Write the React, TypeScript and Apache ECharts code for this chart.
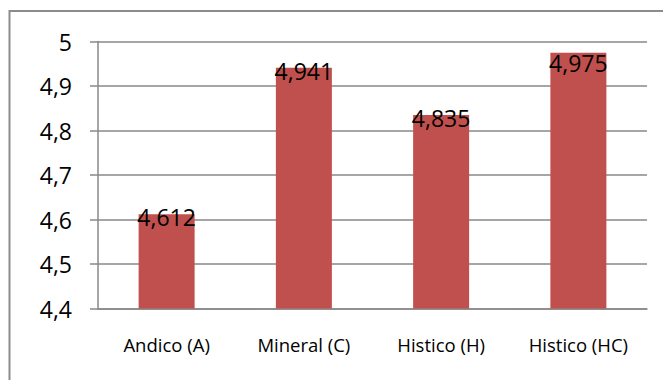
import React, { useEffect, useRef } from "react";
import * as echarts from "echarts";

const categories = ["Andico (A)", "Mineral (C)", "Histico (H)", "Histico (HC)"];
const values = [4.612, 4.941, 4.835, 4.975];
const yMin = 4.4;
const yMax = 5;
const yStep = 0.1;

const fmt = (v: number, digits: number) =>
  String(Number(v.toFixed(digits))).replace(".", ",");

export default function App() {
  const ref = useRef<HTMLDivElement>(null);
  useEffect(() => {
    if (!ref.current) return;
    const chart = echarts.init(ref.current, undefined, { renderer: "svg" });
    const font = "'Open Sans', 'Noto Sans', sans-serif";
    chart.setOption({
      animation: false,
      backgroundColor: "#ffffff",
      graphic: [
        {
          type: "rect",
          shape: { x: 9.5, y: 11, width: 700, height: 420 },
          style: { fill: "none", stroke: "#8c8c8c", lineWidth: 2 },
          silent: true,
        },
      ],
      grid: { left: 98, right: 16, top: 41.5, bottom: 71.5 },
      xAxis: {
        type: "category",
        data: categories,
        axisLine: { show: true, lineStyle: { color: "#888888", width: 1.5 } },
        axisTick: { show: false },
        axisLabel: {
          color: "#000000",
          fontFamily: font,
          fontSize: 18.5,
          margin: 26,
        },
      },
      yAxis: {
        type: "value",
        min: yMin,
        max: yMax,
        interval: yStep,
        axisLine: { show: true, lineStyle: { color: "#888888", width: 1.5 } },
        axisTick: { show: true, length: 8, lineStyle: { color: "#888888", width: 1.5 } },
        splitLine: { show: true, lineStyle: { color: "#888888", width: 1.5 } },
        axisLabel: {
          color: "#000000",
          fontFamily: font,
          fontSize: 23,
          margin: 26,
          formatter: (v: number) => fmt(v, 1),
        },
      },
      series: [
        {
          type: "bar",
          data: values.map((v, i) => ({
            value: v,
            label: { position: ["50%", i === values.length - 1 ? 10 : 3] },
          })),
          barWidth: 56,
          itemStyle: { color: "#C0504D" },
          label: {
            show: true,
            align: "center",
            verticalAlign: "middle",
            color: "#000000",
            fontFamily: font,
            fontSize: 23,
            formatter: (p: any) => fmt(p.value, 3),
          },
        },
      ],
    });
    return () => chart.dispose();
  }, []);
  return (
    <div
      ref={ref}
      style={{ position: "fixed", left: 0, top: 0, width: 663, height: 380 }}
    />
  );
}
